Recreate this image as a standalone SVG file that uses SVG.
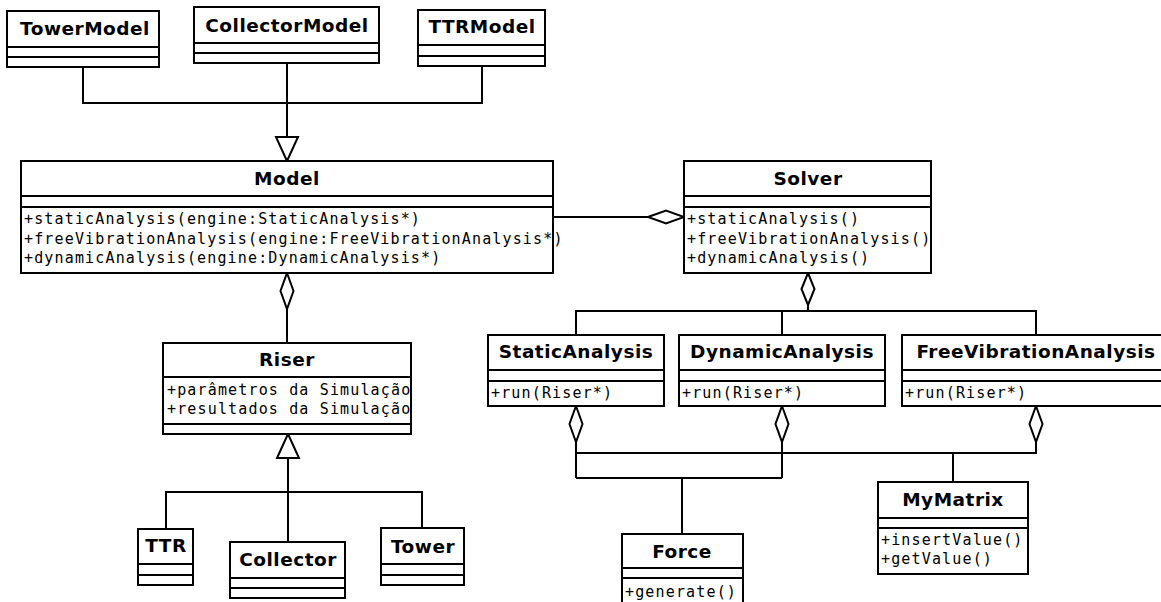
<svg xmlns="http://www.w3.org/2000/svg" width="1161" height="602" viewBox="0 0 1161 602">
  <style>
    .box { fill: #ffffff; stroke: #000000; stroke-width: 2; }
    .sep { stroke: #000000; stroke-width: 2; fill: none; }
    .title { font-family: "DejaVu Sans", "Liberation Sans", sans-serif; font-weight: bold; font-size: 18.5px; letter-spacing: 0.5px; text-anchor: middle; fill: #000000; }
    .member { font-family: "DejaVu Sans Mono", "Liberation Mono", monospace; font-size: 15px; letter-spacing: 1.15px; fill: #000000; }
    .line { stroke: #000000; stroke-width: 2; fill: none; }
    .hollow { fill: #ffffff; stroke: #000000; stroke-width: 2; stroke-linejoin: miter; }
  </style>

  <rect width="1161" height="602" fill="#ffffff"/>

  <!-- connectors -->
  <g id="connectors">
    <!-- Model specializations -->
    <polyline class="line" points="83,67 83,103 482,103 482,66"/>
    <line class="line" x1="287" y1="63" x2="287" y2="137"/>
    <polygon class="hollow" points="276,137 298,137 287,161"/>

    <!-- Model aggregates Riser -->
    <line class="line" x1="287" y1="309" x2="287" y2="343"/>
    <polygon class="hollow" points="287,273 293.5,291 287,309 280.5,291"/>

    <!-- Solver aggregates Model -->
    <line class="line" x1="553" y1="217" x2="648" y2="217"/>
    <polygon class="hollow" points="648,217 666,210.5 684,217 666,223.5"/>

    <!-- Solver aggregates the analyses -->
    <polyline class="line" points="808,305 808,311"/>
    <polygon class="hollow" points="808,273 814.5,289 808,305 801.5,289"/>
    <polyline class="line" points="576,335 576,311 1036,311 1036,335"/>
    <line class="line" x1="782" y1="311" x2="782" y2="335"/>

    <!-- Riser specializations -->
    <polygon class="hollow" points="288,434 299,458 277,458"/>
    <line class="line" x1="288" y1="458" x2="288" y2="542"/>
    <polyline class="line" points="166,529 166,492 422,492 422,528"/>

    <!-- analyses aggregate Force and MyMatrix -->
    <polygon class="hollow" points="576,406 582.5,424 576,442 569.5,424"/>
    <polygon class="hollow" points="782,406 788.5,424 782,442 775.5,424"/>
    <polygon class="hollow" points="1036,406 1042.5,424 1036,442 1029.5,424"/>
    <line class="line" x1="576" y1="442" x2="576" y2="478"/>
    <line class="line" x1="782" y1="442" x2="782" y2="478"/>
    <polyline class="line" points="1036,442 1036,453 576,453"/>
    <line class="line" x1="576" y1="478" x2="782" y2="478"/>
    <line class="line" x1="682" y1="478" x2="682" y2="534"/>
    <line class="line" x1="953" y1="453" x2="953" y2="482"/>
  </g>

  <g id="TowerModel">
    <rect class="box" x="7" y="11" width="152" height="56"/>
    <line class="sep" x1="7" y1="47" x2="159" y2="47"/>
    <line class="sep" x1="7" y1="57" x2="159" y2="57"/>
    <text class="title" x="85" y="35">TowerModel</text>
  </g>

  <g id="CollectorModel">
    <rect class="box" x="194" y="7" width="185" height="56"/>
    <line class="sep" x1="194" y1="43" x2="379" y2="43"/>
    <line class="sep" x1="194" y1="53" x2="379" y2="53"/>
    <text class="title" x="287" y="32">CollectorModel</text>
  </g>

  <g id="TTRModel">
    <rect class="box" x="418" y="10" width="127" height="56"/>
    <line class="sep" x1="418" y1="45" x2="545" y2="45"/>
    <line class="sep" x1="418" y1="56" x2="545" y2="56"/>
    <text class="title" x="482" y="33">TTRModel</text>
  </g>

  <g id="Model">
    <rect class="box" x="21" y="161" width="532" height="112"/>
    <line class="sep" x1="21" y1="196" x2="553" y2="196"/>
    <line class="sep" x1="21" y1="207" x2="553" y2="207"/>
    <text class="title" x="287" y="185">Model</text>
    <text class="member" x="24" y="224">+staticAnalysis(engine:StaticAnalysis*)</text>
    <text class="member" x="24" y="244">+freeVibrationAnalysis(engine:FreeVibrationAnalysis*)</text>
    <text class="member" x="24" y="263">+dynamicAnalysis(engine:DynamicAnalysis*)</text>
  </g>

  <g id="Solver">
    <rect class="box" x="684" y="161" width="247" height="112"/>
    <line class="sep" x1="684" y1="196" x2="931" y2="196"/>
    <line class="sep" x1="684" y1="207" x2="931" y2="207"/>
    <text class="title" x="808" y="185">Solver</text>
    <text class="member" x="687" y="224">+staticAnalysis()</text>
    <text class="member" x="687" y="244">+freeVibrationAnalysis()</text>
    <text class="member" x="687" y="263">+dynamicAnalysis()</text>
  </g>

  <g id="Riser">
    <rect class="box" x="163" y="343" width="248" height="91"/>
    <line class="sep" x1="163" y1="377" x2="411" y2="377"/>
    <line class="sep" x1="163" y1="424" x2="411" y2="424"/>
    <text class="title" x="287" y="366">Riser</text>
    <text class="member" x="167" y="395">+parâmetros da Simulação</text>
    <text class="member" x="167" y="414">+resultados da Simulação</text>
  </g>

  <g id="TTR">
    <rect class="box" x="138" y="529" width="55" height="56"/>
    <line class="sep" x1="138" y1="564" x2="193" y2="564"/>
    <line class="sep" x1="138" y1="575" x2="193" y2="575"/>
    <text class="title" x="166" y="552">TTR</text>
  </g>

  <g id="Collector">
    <rect class="box" x="230" y="542" width="115" height="56"/>
    <line class="sep" x1="230" y1="578" x2="345" y2="578"/>
    <line class="sep" x1="230" y1="588" x2="345" y2="588"/>
    <text class="title" x="288" y="566">Collector</text>
  </g>

  <g id="Tower">
    <rect class="box" x="381" y="528" width="83" height="57"/>
    <line class="sep" x1="381" y1="564" x2="464" y2="564"/>
    <line class="sep" x1="381" y1="575" x2="464" y2="575"/>
    <text class="title" x="423" y="553">Tower</text>
  </g>

  <g id="StaticAnalysis">
    <rect class="box" x="488" y="335" width="176" height="71"/>
    <line class="sep" x1="488" y1="370" x2="664" y2="370"/>
    <line class="sep" x1="488" y1="381" x2="664" y2="381"/>
    <text class="title" x="576" y="358">StaticAnalysis</text>
    <text class="member" x="491" y="398">+run(Riser*)</text>
  </g>

  <g id="DynamicAnalysis">
    <rect class="box" x="679" y="335" width="206" height="71"/>
    <line class="sep" x1="679" y1="370" x2="885" y2="370"/>
    <line class="sep" x1="679" y1="381" x2="885" y2="381"/>
    <text class="title" x="782" y="358">DynamicAnalysis</text>
    <text class="member" x="682" y="398">+run(Riser*)</text>
  </g>

  <g id="FreeVibrationAnalysis">
    <rect class="box" x="902" y="335" width="268" height="71"/>
    <line class="sep" x1="902" y1="370" x2="1170" y2="370"/>
    <line class="sep" x1="902" y1="381" x2="1170" y2="381"/>
    <text class="title" x="1036" y="358">FreeVibrationAnalysis</text>
    <text class="member" x="905" y="398">+run(Riser*)</text>
  </g>

  <g id="Force">
    <rect class="box" x="622" y="534" width="121" height="76"/>
    <line class="sep" x1="622" y1="568" x2="743" y2="568"/>
    <line class="sep" x1="622" y1="578" x2="743" y2="578"/>
    <text class="title" x="682" y="558">Force</text>
    <text class="member" x="625" y="597">+generate()</text>
  </g>

  <g id="MyMatrix">
    <rect class="box" x="878" y="482" width="150" height="92"/>
    <line class="sep" x1="878" y1="518" x2="1028" y2="518"/>
    <line class="sep" x1="878" y1="528" x2="1028" y2="528"/>
    <text class="title" x="953" y="506">MyMatrix</text>
    <text class="member" x="881" y="545">+insertValue()</text>
    <text class="member" x="881" y="564">+getValue()</text>
  </g>
</svg>
